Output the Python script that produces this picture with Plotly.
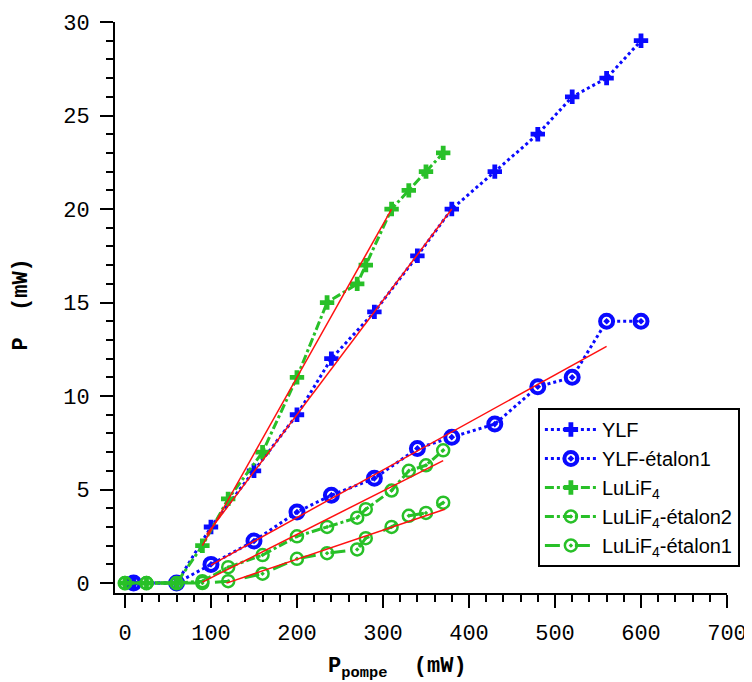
import plotly.graph_objects as go

# ---- data ----
ylf_x = [10, 60, 100, 150, 200, 240, 290, 340, 380, 430, 480, 520, 560, 600]
ylf_y = [0, 0, 3, 6, 9, 12, 14.5, 17.5, 20, 22, 24, 26, 27, 29]

ylf_et1_x = [10, 60, 100, 150, 200, 240, 290, 340, 380, 430, 480, 520, 560, 600]
ylf_et1_y = [0, 0, 1.0, 2.25, 3.8, 4.7, 5.6, 7.2, 7.8, 8.5, 10.5, 11.0, 14.0, 14.0]

lulif_x = [0, 25, 60, 90, 120, 160, 200, 235, 270, 280, 310, 330, 350, 370]
lulif_y = [0, 0, 0, 2, 4.5, 7, 11, 15, 16, 17, 20, 21, 22, 23]

lulif_et2_x = [0, 25, 60, 90, 120, 160, 200, 235, 270, 280, 310, 330, 350, 370]
lulif_et2_y = [0, 0, 0, 0.1, 0.85, 1.5, 2.5, 3.0, 3.5, 3.95, 4.95, 6.0, 6.3, 7.1]

lulif_et1_x = [0, 25, 60, 90, 120, 160, 200, 235, 270, 280, 310, 330, 350, 370]
lulif_et1_y = [0, 0, 0, 0, 0.1, 0.5, 1.3, 1.6, 1.8, 2.4, 3.0, 3.6, 3.75, 4.3]

# linear fits (endpoints)
fit_ylf_x, fit_ylf_y = [95, 380], [2.6, 20]
fit_lulif_x, fit_lulif_y = [90, 310], [2.0, 20]
fit_ylf_et1_x, fit_ylf_et1_y = [100, 560], [0.96, 12.66]
fit_et2_x, fit_et2_y = [90, 370], [0.05, 6.55]
fit_et1_x, fit_et1_y = [118, 372], [0.0, 3.95]

x_ticks = [0, 100, 200, 300, 400, 500, 600, 700]
y_ticks = [0, 5, 10, 15, 20, 25, 30]

BLUE = "#0a0aff"
GREEN = "#28c028"
RED = "#ff1010"

fig = go.Figure()

fig.add_trace(go.Scatter(x=ylf_x, y=ylf_y, name="YLF", mode="lines+markers",
                         line=dict(color=BLUE, width=3, dash="dot"),
                         marker=dict(symbol="cross", size=12, color=BLUE)))
fig.add_trace(go.Scatter(x=ylf_et1_x, y=ylf_et1_y, name="YLF-étalon1", mode="lines+markers",
                         line=dict(color=BLUE, width=3, dash="dot"),
                         marker=dict(symbol="circle-open-dot", size=13, color=BLUE,
                                     line=dict(width=4, color=BLUE))))
fig.add_trace(go.Scatter(x=lulif_x, y=lulif_y, name="LuLiF<sub>4</sub>", mode="lines+markers",
                         line=dict(color=GREEN, width=3, dash="dashdot"),
                         marker=dict(symbol="cross", size=12, color=GREEN)))
fig.add_trace(go.Scatter(x=lulif_et2_x, y=lulif_et2_y, name="LuLiF<sub>4</sub>-étalon2", mode="lines+markers",
                         line=dict(color=GREEN, width=3, dash="dashdot"),
                         marker=dict(symbol="circle-open-dot", size=12, color=GREEN,
                                     line=dict(width=2.5, color=GREEN))))
fig.add_trace(go.Scatter(x=lulif_et1_x, y=lulif_et1_y, name="LuLiF<sub>4</sub>-étalon1", mode="lines+markers",
                         line=dict(color=GREEN, width=3, dash="longdash"),
                         marker=dict(symbol="circle-open-dot", size=12, color=GREEN,
                                     line=dict(width=2.5, color=GREEN))))

for fx, fy in [(fit_ylf_x, fit_ylf_y), (fit_lulif_x, fit_lulif_y), (fit_ylf_et1_x, fit_ylf_et1_y),
               (fit_et2_x, fit_et2_y), (fit_et1_x, fit_et1_y)]:
    fig.add_trace(go.Scatter(x=fx, y=fy, mode="lines", showlegend=False,
                             line=dict(color=RED, width=1.5)))

axis_common = dict(showgrid=False, zeroline=False, showline=True, linecolor="black", linewidth=2,
                   ticks="outside", ticklen=13, tickwidth=2, tickcolor="black", automargin=False,
                   tickfont=dict(family="Liberation Mono", size=22, color="black"))

fig.update_xaxes(range=[-11.6, 700], tickvals=x_ticks, ticktext=[str(v) for v in x_ticks],
                 ticklabelstandoff=6,
                 minor=dict(dtick=20, ticklen=7, tickwidth=2, tickcolor="black", ticks="outside"),
                 **axis_common)
fig.update_yaxes(range=[-0.53, 30], tickvals=y_ticks, ticktext=[str(v) for v in y_ticks],
                 ticklabelstandoff=6,
                 minor=dict(dtick=1, ticklen=7, tickwidth=2, tickcolor="black", ticks="outside"),
                 **axis_common)

fig.add_annotation(text="<b>P<sub>pompe</sub>  (mW)</b>", xref="paper", yref="paper",
                   x=0.462, y=-0.104, xanchor="center", yanchor="top", showarrow=False,
                   font=dict(family="Liberation Mono", size=22, color="black"))
fig.add_annotation(text="<b>P  (mW)</b>", xref="paper", yref="paper", textangle=-90,
                   x=-0.152, y=0.505, xanchor="center", yanchor="middle", showarrow=False,
                   font=dict(family="Liberation Mono", size=22, color="black"))

# page body has an 8px default margin: shift the figure so the plot area lands where the reference has it
fig.update_layout(
    width=752, height=682,
    margin=dict(l=107, r=33, t=14, b=97, autoexpand=False),
    paper_bgcolor="white", plot_bgcolor="white",
    showlegend=True,
    legend=dict(x=0.691, y=0.324, xanchor="left", yanchor="top",
                bordercolor="black", borderwidth=2, bgcolor="white",
                font=dict(family="Liberation Sans", size=20, color="black"),
                tracegroupgap=0, itemwidth=52),
)

fig.write_html("out.html")
